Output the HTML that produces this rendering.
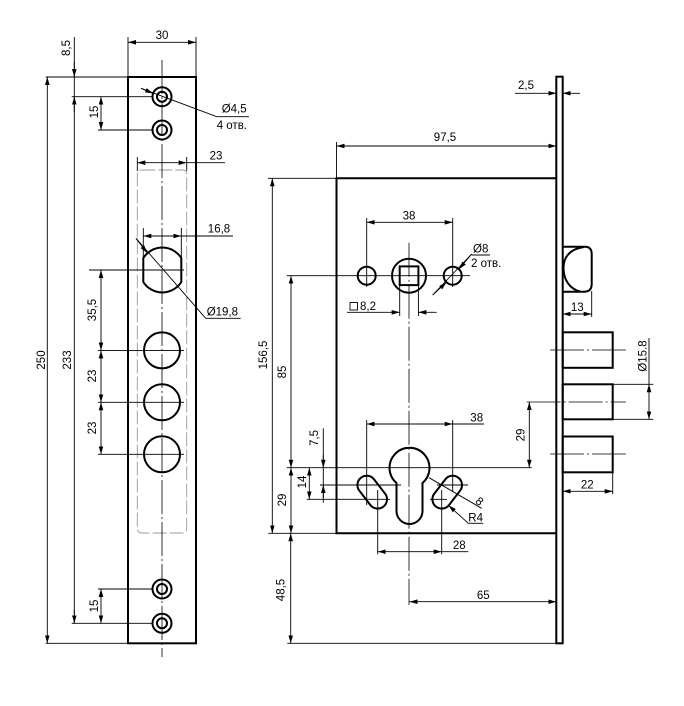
<!DOCTYPE html>
<html><head><meta charset="utf-8"><style>
html,body{margin:0;padding:0;background:#fff;}
svg{display:block;}
.t{stroke:#000;stroke-width:0.9;fill:none;}
.k{stroke:#000;stroke-width:2;fill:none;}
.c{stroke:#000;stroke-width:0.8;fill:none;stroke-dasharray:34,3,2,3;}
text{font-family:"Liberation Sans",Arial,sans-serif;font-size:11.5px;fill:#000;}
.m{text-anchor:middle;}
.r{text-anchor:middle;dominant-baseline:central;}
</style></head><body>
<svg width="684" height="706" viewBox="0 0 684 706" xmlns="http://www.w3.org/2000/svg">
<defs>
<marker id="a" viewBox="0 0 8 6" refX="8" refY="3" markerWidth="8" markerHeight="6" markerUnits="userSpaceOnUse" orient="auto-start-reverse"><path d="M0,0.7 L8,3 L0,5.3 z" fill="#000"/></marker>
</defs>
<rect width="684" height="706" fill="#fff"/>

<!-- ============ LEFT VIEW (strike plate) ============ -->
<rect x="128" y="77" width="68" height="566.3" class="k"/>
<rect x="137.3" y="170" width="49.4" height="363" rx="4" stroke="#999" stroke-width="0.9" stroke-dasharray="14,3" fill="none"/>
<line x1="137.3" y1="157" x2="137.3" y2="171" class="t"/>
<line x1="186.7" y1="157" x2="186.7" y2="171" class="t"/>
<line x1="162" y1="60" x2="162" y2="657" class="c"/>

<!-- small holes -->
<g>
<circle cx="162" cy="96.7" r="9.5" class="k"/><circle cx="162" cy="96.7" r="5" class="k" stroke-width="1.6"/>
<circle cx="162" cy="130" r="9.5" class="k"/><circle cx="162" cy="130" r="5" class="k" stroke-width="1.6"/>
<circle cx="162" cy="589" r="9.5" class="k"/><circle cx="162" cy="589" r="5" class="k" stroke-width="1.6"/>
<circle cx="162" cy="623.3" r="9.5" class="k"/><circle cx="162" cy="623.3" r="5" class="k" stroke-width="1.6"/>
</g>
<!-- big holes -->
<path d="M143.3,258 A22.5,22.5 0 0 1 181.3,258 L181.3,282 A22.5,22.5 0 0 1 143.3,282 Z" class="k"/>
<circle cx="162" cy="350.4" r="18" class="k"/>
<circle cx="162" cy="402.3" r="18" class="k"/>
<circle cx="162" cy="454.3" r="18" class="k"/>
<line x1="89" y1="270" x2="184" y2="270" class="t"/>
<line x1="98" y1="350.4" x2="184" y2="350.4" class="t"/>
<line x1="98" y1="402.3" x2="184" y2="402.3" class="t"/>
<line x1="98" y1="454.3" x2="184" y2="454.3" class="t"/>

<!-- extension lines -->
<line x1="128" y1="37" x2="128" y2="77" class="t"/>
<line x1="196" y1="37" x2="196" y2="77" class="t"/>
<line x1="45.7" y1="77" x2="128" y2="77" class="t"/>
<line x1="71.7" y1="96.7" x2="152" y2="96.7" class="t"/>
<line x1="98" y1="130" x2="152" y2="130" class="t"/>
<line x1="98" y1="589" x2="152" y2="589" class="t"/>
<line x1="71.7" y1="623.3" x2="152" y2="623.3" class="t"/>
<line x1="45.7" y1="643.3" x2="128" y2="643.3" class="t"/>

<!-- 30 -->
<line x1="128" y1="42.3" x2="196" y2="42.3" class="t" marker-start="url(#a)" marker-end="url(#a)"/>
<text x="162" y="39" class="m">30</text>
<!-- 8,5 / 233 line -->
<line x1="74.3" y1="37" x2="74.3" y2="623.3" class="t"/>
<path d="M74.3,62 L74.3,77" class="t" marker-end="url(#a)"/>
<path d="M74.3,112 L74.3,96.7" class="t" marker-end="url(#a)"/>
<path d="M74.3,610 L74.3,623.3" class="t" marker-end="url(#a)"/>
<text transform="translate(67,48) rotate(-90)" class="r">8,5</text>
<text transform="translate(68,360) rotate(-90)" class="r">233</text>
<!-- 250 -->
<line x1="47.3" y1="77" x2="47.3" y2="643.3" class="t" marker-start="url(#a)" marker-end="url(#a)"/>
<text transform="translate(42,360) rotate(-90)" class="r">250</text>
<!-- 15 top / bottom -->
<line x1="101" y1="96.7" x2="101" y2="130" class="t" marker-start="url(#a)" marker-end="url(#a)"/>
<text transform="translate(95,112) rotate(-90)" class="r">15</text>
<line x1="101" y1="589" x2="101" y2="623.3" class="t" marker-start="url(#a)" marker-end="url(#a)"/>
<text transform="translate(95,606) rotate(-90)" class="r">15</text>
<!-- 35,5 / 23 / 23 -->
<line x1="101" y1="270" x2="101" y2="350.4" class="t" marker-start="url(#a)" marker-end="url(#a)"/>
<line x1="101" y1="350.4" x2="101" y2="402.3" class="t" marker-start="url(#a)" marker-end="url(#a)"/>
<line x1="101" y1="402.3" x2="101" y2="454.3" class="t" marker-start="url(#a)" marker-end="url(#a)"/>
<text transform="translate(93,310) rotate(-90)" class="r">35,5</text>
<text transform="translate(93,376) rotate(-90)" class="r">23</text>
<text transform="translate(93,428) rotate(-90)" class="r">23</text>
<!-- 23 top -->
<line x1="137.3" y1="162.7" x2="186.7" y2="162.7" class="t" marker-start="url(#a)" marker-end="url(#a)"/>
<line x1="186.7" y1="162.7" x2="225" y2="162.7" class="t"/>
<text x="216" y="159.5" class="m">23</text>
<!-- 16,8 -->
<line x1="143.3" y1="228" x2="143.3" y2="259" class="t"/>
<line x1="181.3" y1="228" x2="181.3" y2="259" class="t"/>
<line x1="143.3" y1="236" x2="181.3" y2="236" class="t" marker-start="url(#a)" marker-end="url(#a)"/>
<line x1="181.3" y1="236" x2="233" y2="236" class="t"/>
<text x="219" y="232.5" class="m">16,8</text>
<!-- Ø4,5 leader -->
<path d="M141,88.3 L153.1,93.4" class="t" marker-end="url(#a)"/>
<polyline points="141,88.3 216.7,116.7 249,116.7" class="t"/>
<text x="221.7" y="112.5">Ø4,5</text>
<text x="216.7" y="129">4 отв.</text>
<!-- Ø19,8 leader -->
<path d="M136,238.3 L147.2,253" class="t" marker-end="url(#a)"/>
<polyline points="136,238.3 205.7,318.3 240.7,318.3" class="t"/>
<text x="206.7" y="315.5">Ø19,8</text>

<!-- ============ RIGHT VIEW (lock body) ============ -->
<rect x="556.3" y="76.7" width="6.4" height="566.6" class="k"/>
<polyline points="556.3,178.3 336.5,178.3 336.5,533.3 556.3,533.3" class="k"/>

<!-- latch -->
<path d="M562.7,246.7 L585,246.7 Q591.7,246.7 591.7,254 L591.7,284 Q591.7,291.7 584,291.7 L562.7,291.7" class="k"/>
<path d="M584,247 C569,249 563.5,258 563.5,268 C563.5,280 570,289 580,291.5" class="k"/>
<!-- deadbolts -->
<rect x="562.7" y="332.3" width="50" height="35.5" class="k"/>
<rect x="562.7" y="384.3" width="50" height="35" class="k"/>
<rect x="562.7" y="436.5" width="50" height="35.8" class="k"/>
<line x1="550" y1="350" x2="626" y2="350" class="c" stroke-dasharray="22,4,2,4"/>
<line x1="526.7" y1="402" x2="626" y2="402" class="c" stroke-dasharray="22,4,2,4"/>
<line x1="550" y1="454" x2="626" y2="454" class="c" stroke-dasharray="22,4,2,4"/>

<!-- follower & holes -->
<circle cx="409" cy="275.7" r="17" class="k"/>
<rect x="399.7" y="266.4" width="18.7" height="18.7" class="k"/>
<circle cx="366.7" cy="275.7" r="9" class="k" stroke-width="1.8"/>
<circle cx="452.7" cy="275.7" r="9" class="k" stroke-width="1.8"/>
<line x1="286.7" y1="275.7" x2="470" y2="275.7" class="t"/>
<line x1="409" y1="242.7" x2="409" y2="605" class="c" stroke-dasharray="30,3,2,3"/>

<!-- 97,5 -->
<line x1="336.5" y1="142" x2="336.5" y2="178.3" class="t"/>
<line x1="336.5" y1="146" x2="556.3" y2="146" class="t" marker-start="url(#a)" marker-end="url(#a)"/>
<text x="445" y="141" class="m">97,5</text>
<!-- 2,5 -->
<path d="M515,93.3 L556.3,93.3" class="t" marker-end="url(#a)"/>
<path d="M580,93.3 L562.7,93.3" class="t" marker-end="url(#a)"/>
<text x="526" y="89" class="m">2,5</text>
<!-- 38 top -->
<line x1="366.7" y1="218" x2="366.7" y2="287" class="t"/>
<line x1="452.7" y1="218" x2="452.7" y2="287" class="t"/>
<line x1="366.7" y1="222.3" x2="452.7" y2="222.3" class="t" marker-start="url(#a)" marker-end="url(#a)"/>
<text x="409" y="219.5" class="m">38</text>
<!-- Ø8 -->
<path d="M432.7,295 L446.5,282.2" class="t" marker-end="url(#a)"/>
<path d="M471.7,254 L458.9,269.2" class="t" marker-end="url(#a)"/>
<line x1="432.7" y1="295" x2="471.7" y2="254" class="t"/>
<line x1="471.7" y1="255" x2="490" y2="255" class="t"/>
<text x="473" y="252.5">Ø8</text>
<text x="471" y="267">2 отв.</text>
<!-- 8,2 -->
<rect x="350" y="302.5" width="7.5" height="7.5" class="t" stroke-width="1"/>
<text x="360" y="310">8,2</text>
<line x1="399.7" y1="285" x2="399.7" y2="316" class="t"/>
<line x1="418.4" y1="285" x2="418.4" y2="316" class="t"/>
<path d="M347,312.3 L399.7,312.3" class="t" marker-end="url(#a)"/>
<path d="M436.7,312.3 L418.4,312.3" class="t" marker-end="url(#a)"/>
<!-- 13 -->
<line x1="591.7" y1="291" x2="591.7" y2="317" class="t"/>
<line x1="562.7" y1="314" x2="591.7" y2="314" class="t" marker-start="url(#a)" marker-end="url(#a)"/>
<text x="577.3" y="311" class="m">13</text>
<!-- Ø15.8 -->
<line x1="612.7" y1="384.3" x2="653.3" y2="384.3" class="t"/>
<line x1="612.7" y1="419.3" x2="653.3" y2="419.3" class="t"/>
<line x1="649" y1="338" x2="649" y2="384.3" class="t"/>
<line x1="649" y1="384.3" x2="649" y2="419.3" class="t" marker-start="url(#a)" marker-end="url(#a)"/>
<text transform="translate(643.5,356) rotate(-90)" class="r">Ø15.8</text>
<!-- 29 right -->
<line x1="286.7" y1="467.7" x2="531.7" y2="467.7" class="t"/>
<line x1="529.3" y1="402" x2="529.3" y2="467.7" class="t" marker-start="url(#a)" marker-end="url(#a)"/>
<text transform="translate(521.7,435) rotate(-90)" class="r">29</text>
<!-- 22 -->
<line x1="612.7" y1="472" x2="612.7" y2="494" class="t"/>
<line x1="562.7" y1="491.3" x2="612.7" y2="491.3" class="t" marker-start="url(#a)" marker-end="url(#a)"/>
<text x="587.3" y="488.5" class="m">22</text>

<!-- 156,5 -->
<line x1="268" y1="178.3" x2="336.5" y2="178.3" class="t"/>
<line x1="268.3" y1="533.3" x2="336.5" y2="533.3" class="t"/>
<line x1="272.3" y1="178.3" x2="272.3" y2="533.3" class="t" marker-start="url(#a)" marker-end="url(#a)"/>
<text transform="translate(264,355) rotate(-90)" class="r">156,5</text>
<!-- 85 / 29 / 48,5 -->
<line x1="291" y1="275.7" x2="291" y2="467.7" class="t" marker-start="url(#a)" marker-end="url(#a)"/>
<text transform="translate(283,372) rotate(-90)" class="r">85</text>
<line x1="291" y1="467.7" x2="291" y2="533.3" class="t" marker-start="url(#a)" marker-end="url(#a)"/>
<text transform="translate(283,500) rotate(-90)" class="r">29</text>
<line x1="287.3" y1="643.3" x2="556.3" y2="643.3" class="t"/>
<line x1="290.7" y1="533.3" x2="290.7" y2="643.3" class="t" marker-start="url(#a)" marker-end="url(#a)"/>
<text transform="translate(281.7,590) rotate(-90)" class="r">48,5</text>

<!-- cylinder keyhole -->
<path d="M396.5,483 A20,20 0 1 1 422.5,483 L422.5,511 A13,13 0 0 1 396.5,511 Z" class="k"/>
<!-- slots -->
<rect x="-18.3" y="-9.3" width="36.6" height="18.6" rx="9.3" class="k" transform="translate(372.2,492.15) rotate(52.4)"/>
<rect x="-18.3" y="-9.3" width="36.6" height="18.6" rx="9.3" class="k" transform="translate(447.2,492.15) rotate(127.6)"/>
<line x1="320" y1="485" x2="401" y2="485" class="t"/>
<line x1="437" y1="485" x2="468" y2="485" class="t"/>
<line x1="306.7" y1="499.3" x2="390" y2="499.3" class="t"/>
<line x1="430" y1="499.3" x2="447" y2="499.3" class="t"/>
<!-- 7,5 -->
<line x1="323.3" y1="428.3" x2="323.3" y2="502.7" class="t"/>
<path d="M323.3,455 L323.3,467.7" class="t" marker-end="url(#a)"/>
<path d="M323.3,498 L323.3,485" class="t" marker-end="url(#a)"/>
<text transform="translate(315,438) rotate(-90)" class="r">7,5</text>
<!-- 14 -->
<line x1="309.3" y1="467.7" x2="309.3" y2="499.3" class="t" marker-start="url(#a)" marker-end="url(#a)"/>
<text transform="translate(303,482) rotate(-90)" class="r">14</text>
<!-- 38 lower -->
<line x1="366.7" y1="420" x2="366.7" y2="505" class="t"/>
<line x1="452.7" y1="420" x2="452.7" y2="492" class="t"/>
<line x1="366.7" y1="424" x2="452.7" y2="424" class="t" marker-start="url(#a)" marker-end="url(#a)"/>
<line x1="452.7" y1="424" x2="484" y2="424" class="t"/>
<text x="476.7" y="421.5" class="m">38</text>
<!-- 28 -->
<line x1="377.7" y1="490" x2="377.7" y2="554.3" class="t"/>
<line x1="441.7" y1="490" x2="441.7" y2="554.3" class="t"/>
<line x1="377.7" y1="551.7" x2="441.7" y2="551.7" class="t" marker-start="url(#a)" marker-end="url(#a)"/>
<line x1="441.7" y1="551.7" x2="468.3" y2="551.7" class="t"/>
<text x="459.3" y="549" class="m">28</text>
<!-- 65 -->
<line x1="409.5" y1="601.7" x2="556.3" y2="601.7" class="t" marker-start="url(#a)" marker-end="url(#a)"/>
<text x="483.3" y="599" class="m">65</text>
<!-- 8 and R4 leaders -->
<line x1="429" y1="477.7" x2="481.7" y2="508.3" class="t"/>
<text transform="translate(479,502) rotate(38)" class="r">8</text>
<path d="M468.3,523.3 L448.4,505.3" class="t" marker-end="url(#a)"/>
<line x1="468.3" y1="523.3" x2="483.3" y2="523.3" class="t"/>
<text x="468.3" y="521.5">R4</text>
</svg>
</body></html>
